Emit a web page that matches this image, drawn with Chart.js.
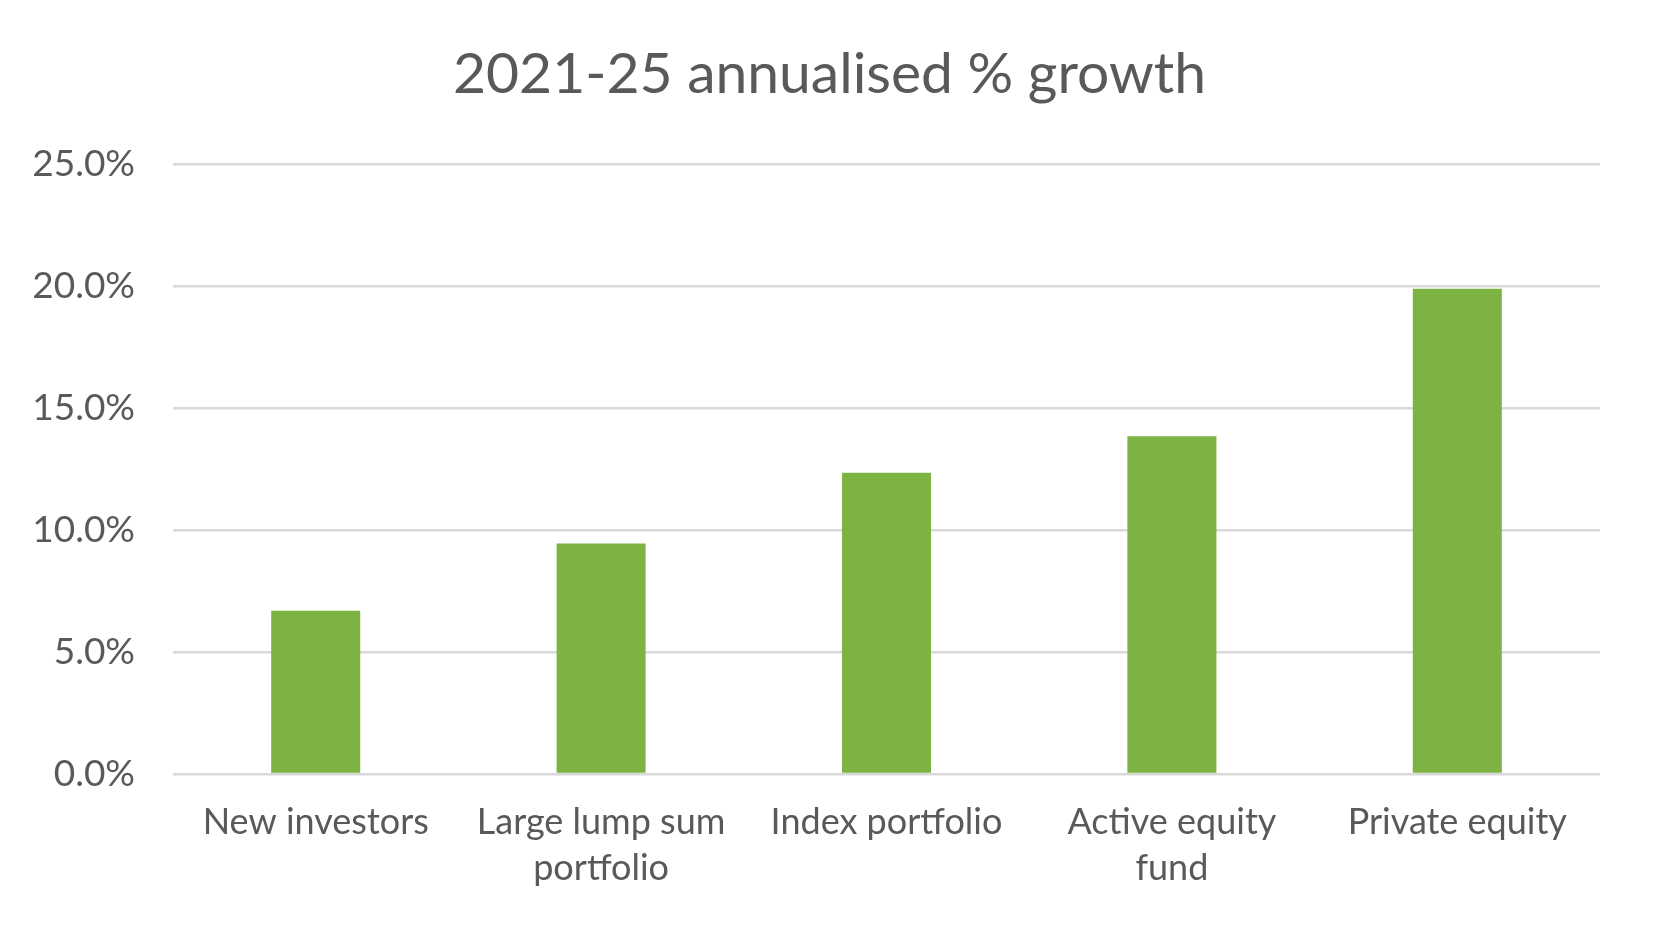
<!DOCTYPE html>
<html>
<head>
<meta charset="utf-8">
<title>2021-25 annualised % growth</title>
<script src="https://cdn.jsdelivr.net/npm/chart.js@4"></script>
<style>
  html, body { margin: 0; padding: 0; background: #fff; }
  #wrap { width: 1659px; height: 925px; }
</style>
</head>
<body>
<div id="wrap"><canvas id="myChart"></canvas></div>
<script>
// values (% per year)
var categories = [
    'New investors',
    ['Large lump sum', 'portfolio'],
    'Index portfolio',
    ['Active equity', 'fund'],
    'Private equity'
]
var growth = [6.7, 9.45, 12.35, 13.85, 19.9]
var yTicks = [0, 5, 10, 15, 20, 25]

var textColor = '#595959'
var fontName = 'Lato, "Noto Sans", sans-serif'

var graphData = {
    type: 'bar',
    data: {
        labels: categories,
        datasets: [{
            label: 'Annualised growth',
            data: growth,
            backgroundColor: '#7DB343',
            categoryPercentage: 1,
            barPercentage: 0.312
        }]
    },
    options: {
        responsive: true,
        maintainAspectRatio: false,
        animation: false,
        layout: { padding: 0 },
        plugins: {
            legend: { display: false },
            tooltip: { enabled: false },
            title: {
                display: true,
                text: '2021-25 annualised % growth',
                color: textColor,
                font: { family: fontName, size: 57, weight: 'normal', lineHeight: 1.2 },
                padding: { top: 40, bottom: 56 }
            }
        },
        scales: {
            x: {
                grid: { display: false },
                border: { display: false },
                ticks: {
                    color: textColor,
                    font: { family: fontName, size: 36, lineHeight: 1.27 },
                    padding: 18,
                    maxRotation: 0,
                    autoSkip: false
                },
                afterFit: function (scale) { scale.height = 151 }
            },
            y: {
                min: yTicks[0],
                max: yTicks[yTicks.length - 1],
                afterBuildTicks: function (scale) {
                    scale.ticks = yTicks.map(function (v) { return { value: v } })
                },
                grid: { color: '#D9D9D9', lineWidth: 2.5, drawTicks: false },
                border: { display: false },
                ticks: {
                    color: textColor,
                    font: { family: fontName, size: 37 },
                    padding: 38,
                    callback: function (v) { return v.toFixed(1) + '%' }
                },
                afterFit: function (scale) { scale.width = 173 }
            },
            // empty right margin so the title stays centred on the page
            yRight: {
                position: 'right',
                min: 0,
                max: 25,
                grid: { display: false },
                border: { display: false },
                ticks: { display: false },
                afterFit: function (scale) { scale.width = 59 }
            }
        }
    }
}

var ctx = document.getElementById('myChart').getContext('2d')
var myChart = new Chart(ctx, graphData)
</script>
</body>
</html>
